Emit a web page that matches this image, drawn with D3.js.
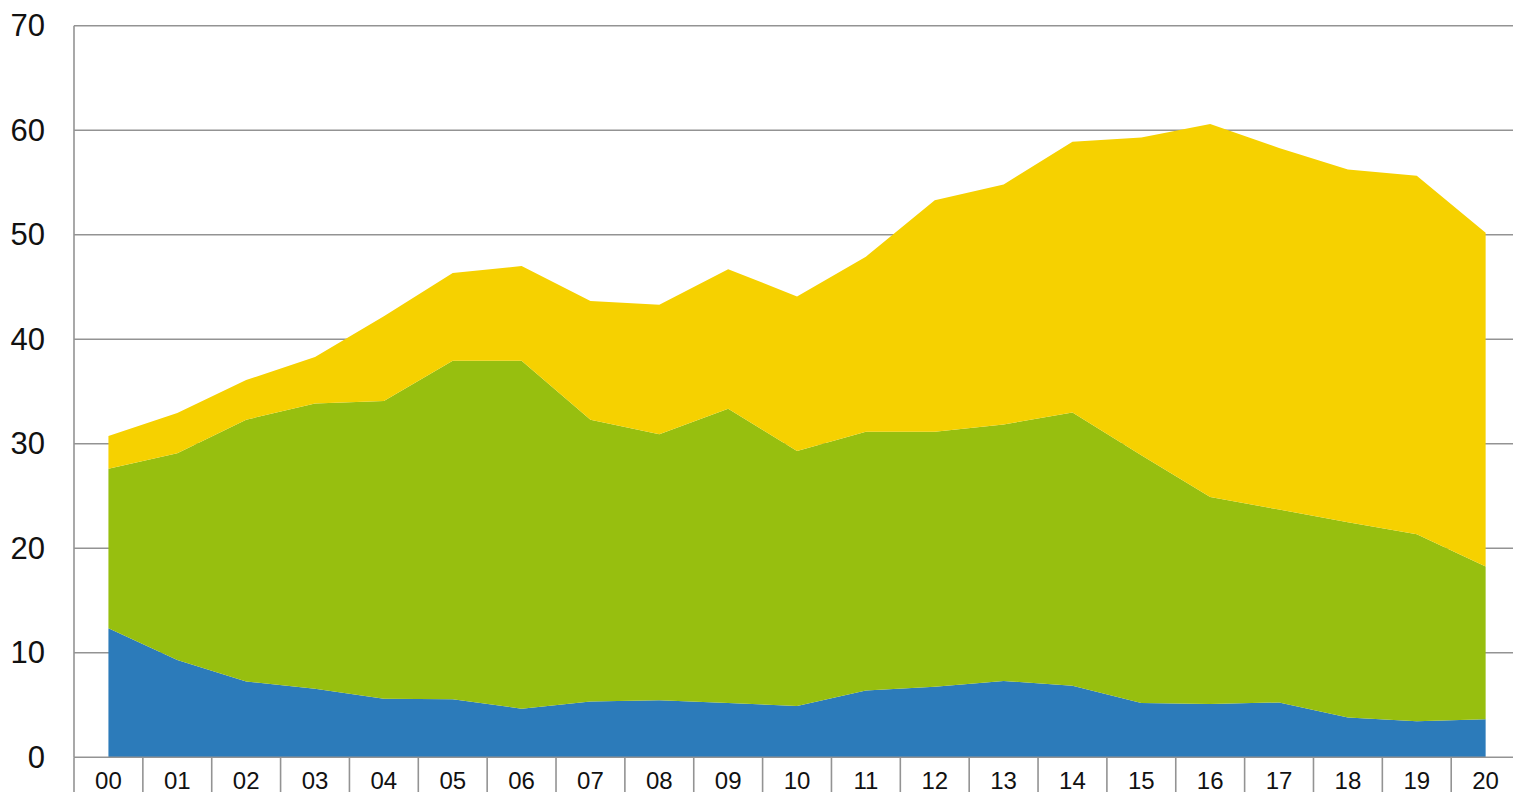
<!DOCTYPE html>
<html>
<head>
<meta charset="utf-8">
<script src="https://cdn.jsdelivr.net/npm/d3@7"></script>
<style>
  body {margin:0; background:#fff;}
  svg {display:block;}
</style>
</head>
<body>
<div id="chart"></div>
<script>
var w=1513
var h=792
var padding={top:25.7, bottom:35, left:74, right:0};

//Chart data
var years=["00","01","02","03","04","05","06","07","08","09","10","11","12","13","14","15","16","17","18","19","20"];
var blueVals=[12.35,9.3,7.25,6.55,5.6,5.55,4.65,5.35,5.45,5.2,4.9,6.4,6.75,7.3,6.85,5.2,5.1,5.25,3.8,3.45,3.65];
var greenVals=[15.25,19.8,25.05,27.3,28.5,32.4,33.3,26.95,25.45,28.15,24.4,24.75,24.4,24.55,26.15,23.7,19.8,18.45,18.7,17.9,14.6];
var yellowVals=[3.15,3.85,3.8,4.45,8.1,8.4,9.05,11.35,12.4,13.35,14.8,16.75,22.15,22.95,25.9,30.4,35.7,34.6,33.75,34.3,31.95];
var yTicks=[0,10,20,30,40,50,60,70];

var seriesKeys=["blue","green","yellow"];
var seriesColors={blue:"#2c7bba",green:"#97bf0f",yellow:"#f6d100"};

//Build rows for the stack
var rows=years.map(function(y,i) {
    return {year:y, blue:blueVals[i], green:greenVals[i], yellow:yellowVals[i]};
});

var svg=d3.select("#chart")
          .append("svg")
          .attr("width",w)
          .attr("height",h);

//Scales
var xScale=d3.scaleBand()
             .domain(years)
             .range([padding.left,padding.left+21*68.86])
             .padding(0);
var yScale=d3.scaleLinear()
             .domain([0,70])
             .range([757.3,padding.top]);

var gridColor="#939393";
var gridWidth=1.6;
var fontFam="'Liberation Sans', Arial, sans-serif";

//Horizontal gridlines
svg.append("g")
   .selectAll("line")
   .data(yTicks.filter(function(d) {return d>0;}))
   .enter()
   .append("line")
   .attr("x1",padding.left)
   .attr("x2",w)
   .attr("y1",function(d) {return yScale(d);})
   .attr("y2",function(d) {return yScale(d);})
   .style("stroke",gridColor)
   .style("stroke-width",gridWidth);

//Stacked areas
var stacked=d3.stack().keys(seriesKeys)(rows);
var area=d3.area()
           .x(function(d) {return xScale(d.data.year)+xScale.bandwidth()/2;})
           .y0(function(d) {return yScale(d[0]);})
           .y1(function(d) {return yScale(d[1]);});

svg.append("g")
   .selectAll("path")
   .data(stacked)
   .enter()
   .append("path")
   .attr("d",area)
   .style("fill",function(d) {return seriesColors[d.key];});

//Axis lines
svg.append("line")
   .attr("x1",padding.left)
   .attr("x2",padding.left)
   .attr("y1",yScale(70))
   .attr("y2",yScale(0))
   .style("stroke",gridColor)
   .style("stroke-width",gridWidth);
svg.append("line")
   .attr("x1",padding.left)
   .attr("x2",w)
   .attr("y1",yScale(0))
   .attr("y2",yScale(0))
   .style("stroke",gridColor)
   .style("stroke-width",gridWidth);

//Category separators below the axis
var bounds=years.map(function(y) {return xScale(y);});
bounds.push(xScale(years[years.length-1])+xScale.bandwidth());
svg.append("g")
   .selectAll("line")
   .data(bounds)
   .enter()
   .append("line")
   .attr("x1",function(d) {return d;})
   .attr("x2",function(d) {return d;})
   .attr("y1",yScale(0))
   .attr("y2",h)
   .style("stroke",gridColor)
   .style("stroke-width",gridWidth);

//Y labels
svg.append("g")
   .selectAll("text")
   .data(yTicks)
   .enter()
   .append("text")
   .attr("x",45)
   .attr("y",function(d) {return yScale(d);})
   .attr("text-anchor","end")
   .attr("dominant-baseline","central")
   .style("font-family",fontFam)
   .style("font-size","31px")
   .style("fill","#111")
   .text(function(d) {return d;});

//X labels
svg.append("g")
   .selectAll("text")
   .data(years)
   .enter()
   .append("text")
   .attr("x",function(d) {return xScale(d)+xScale.bandwidth()/2;})
   .attr("y",780)
   .attr("text-anchor","middle")
   .attr("dominant-baseline","central")
   .style("font-family",fontFam)
   .style("font-size","24px")
   .style("fill","#111")
   .text(function(d) {return d;});
</script>
</body>
</html>
